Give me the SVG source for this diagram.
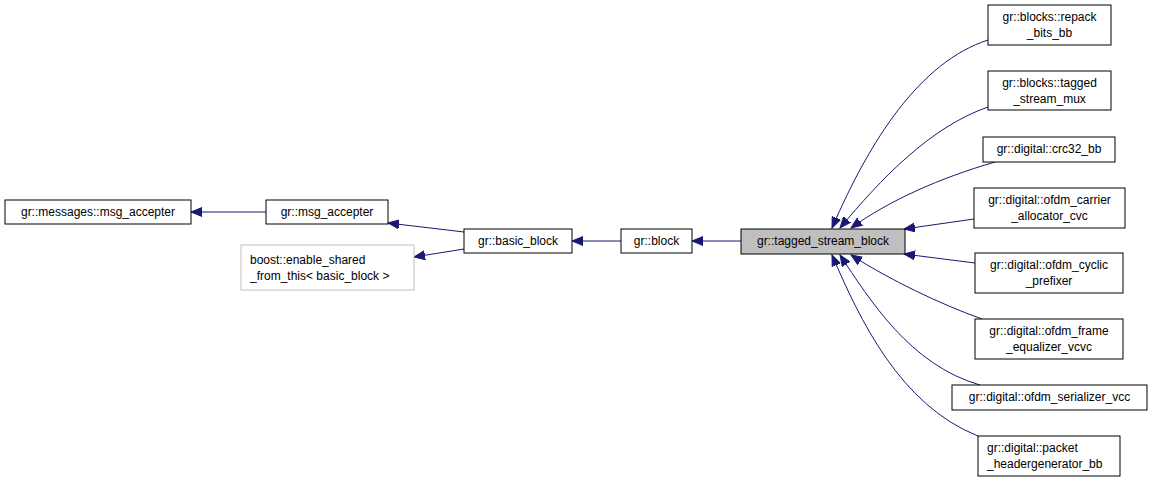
<svg xmlns="http://www.w3.org/2000/svg" width="1152" height="481" viewBox="0 0 1152 481">
<style>
.n rect{fill:#fff;stroke:#000;stroke-width:1}
.g rect{stroke:#bfbfbf}
.h rect{fill:#bfbfbf}
text{font-family:"Liberation Sans",Arial,sans-serif;font-size:12px;fill:#000;text-anchor:middle}
text.s{text-anchor:start}
#edges path{fill:none;stroke:#191970;stroke-width:1;marker-end:url(#a)}
</style>
<defs>
<marker id="a" markerUnits="userSpaceOnUse" markerWidth="12" markerHeight="10" refX="11" refY="5" orient="auto">
<path d="M0,0.5 L11,5 L0,9.5 z" fill="#191970" stroke="#191970"/>
</marker>
</defs>
<rect width="1152" height="481" fill="#fff"/>
<g id="edges">
<path d="M266,212 L191,212"/>
<path d="M464,232 L388,223"/>
<path d="M464,249 L414,257"/>
<path d="M621,241 L572,241"/>
<path d="M741,241 L692,241"/>
<path d="M988,40 C920,62 870,140 832,228"/>
<path d="M988,107 C930,127 880,180 840,228"/>
<path d="M995,162 C940,178 890,200 851,228"/>
<path d="M974,219 L904,229"/>
<path d="M975,263 L904,254"/>
<path d="M982,319 C940,304 890,280 851,255"/>
<path d="M980,385 C910,365 870,300 840,255"/>
<path d="M978,436 C900,405 860,320 832,255"/>
</g>
<g id="msgs_accepter" class="n"><rect x="5" y="200" width="186" height="24"/><text x="98" y="216">gr::messages::msg_accepter</text></g>
<g id="msg_accepter" class="n"><rect x="266" y="200" width="122" height="24"/><text x="327" y="216">gr::msg_accepter</text></g>
<g id="enable_shared" class="n g"><rect x="241" y="245" width="173" height="45"/><text class="s" x="250" y="264">boost::enable_shared</text><text class="s" x="250" y="280">_from_this&lt; basic_block &gt;</text></g>
<g id="basic_block" class="n"><rect x="464" y="229" width="108" height="24"/><text x="518" y="245">gr::basic_block</text></g>
<g id="block" class="n"><rect x="621" y="229" width="71" height="24"/><text x="656.5" y="245">gr::block</text></g>
<g id="tagged_stream_block" class="n h"><rect x="741" y="229" width="164" height="25"/><text x="823" y="245">gr::tagged_stream_block</text></g>
<g id="repack" class="n"><rect x="988" y="5" width="123" height="40"/><text x="1049.5" y="21">gr::blocks::repack</text><text x="1049.5" y="37">_bits_bb</text></g>
<g id="mux" class="n"><rect x="988" y="71" width="123" height="39"/><text x="1049.5" y="87">gr::blocks::tagged</text><text x="1049.5" y="103">_stream_mux</text></g>
<g id="crc32" class="n"><rect x="983" y="137" width="132" height="25"/><text x="1049" y="153">gr::digital::crc32_bb</text></g>
<g id="carrier" class="n"><rect x="974" y="188" width="151" height="40"/><text x="1049.5" y="204">gr::digital::ofdm_carrier</text><text x="1049.5" y="220">_allocator_cvc</text></g>
<g id="cyclic" class="n"><rect x="975" y="253" width="148" height="40"/><text x="1049" y="269">gr::digital::ofdm_cyclic</text><text x="1049" y="285">_prefixer</text></g>
<g id="frame" class="n"><rect x="975" y="319" width="148" height="40"/><text x="1049" y="335">gr::digital::ofdm_frame</text><text x="1049" y="351">_equalizer_vcvc</text></g>
<g id="serializer" class="n"><rect x="952" y="385" width="195" height="25"/><text x="1049.5" y="401">gr::digital::ofdm_serializer_vcc</text></g>
<g id="packet" class="n"><rect x="978" y="436" width="142" height="40"/><text class="s" x="987" y="452">gr::digital::packet</text><text class="s" x="987" y="468">_headergenerator_bb</text></g>
</svg>
